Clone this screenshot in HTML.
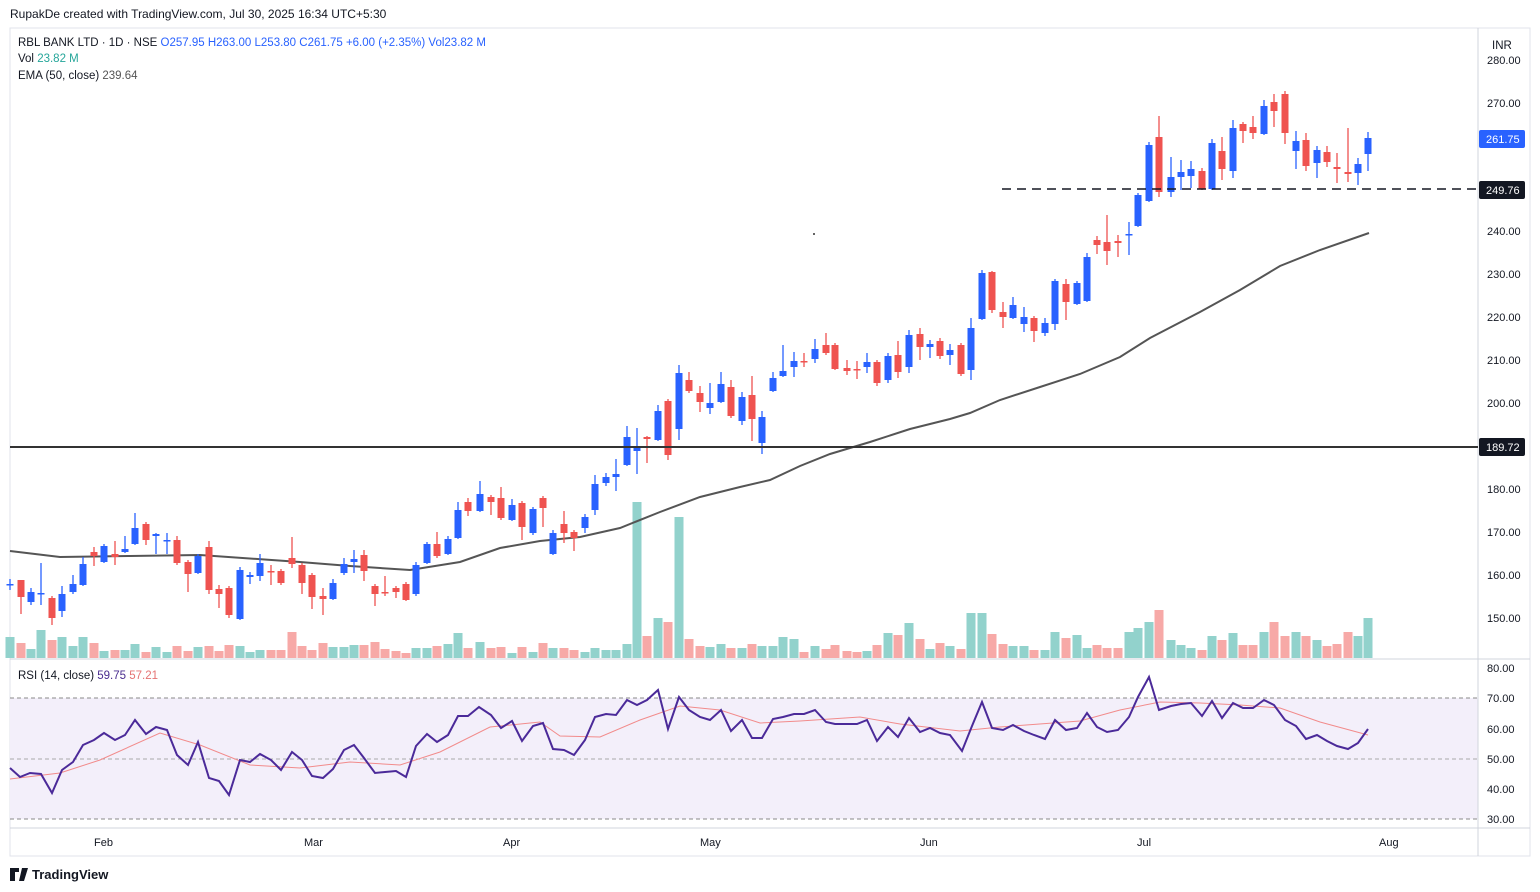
<!DOCTYPE html>
<html><head><meta charset="utf-8"><style>
body{margin:0;background:#fff;width:1540px;height:892px;overflow:hidden;font-family:"Liberation Sans",sans-serif}
svg{position:absolute;left:0;top:0}
</style></head><body>
<svg id="s" width="1540" height="892" xmlns="http://www.w3.org/2000/svg" font-family="Liberation Sans, sans-serif">
<rect x="10" y="28" width="1520" height="828" fill="#fff" stroke="#e0e3eb"/>
<rect x="10" y="698" width="1468" height="121" fill="#f3effa"/>
<line x1="10" y1="698" x2="1478" y2="698" stroke="#888" stroke-dasharray="4,3"/>
<line x1="10" y1="759" x2="1478" y2="759" stroke="#aaa" stroke-dasharray="4,3"/>
<line x1="10" y1="819" x2="1478" y2="819" stroke="#888" stroke-dasharray="4,3"/>
<line x1="10" y1="659" x2="1530" y2="659" stroke="#d1d4dc"/>
<line x1="10" y1="828" x2="1530" y2="828" stroke="#d1d4dc"/>
<line x1="1478" y1="28" x2="1478" y2="856" stroke="#d1d4dc"/>
<g id="g"></g>
<text x="10" y="18" font-size="12" fill="#131722">RupakDe created with TradingView.com, Jul 30, 2025 16:34 UTC+5:30</text>
<text x="18" y="46" font-size="11.5" fill="#131722">RBL BANK LTD · 1D · NSE  <tspan fill="#2962ff">O257.95  H263.00  L253.80  C261.75  +6.00 (+2.35%)  Vol23.82 M</tspan></text>
<text x="18" y="62" font-size="11.5" fill="#131722">Vol <tspan fill="#26a69a">23.82 M</tspan></text>
<text x="18" y="79" font-size="11.5" fill="#131722">EMA (50, close)  <tspan fill="#555">239.64</tspan></text>
<text x="18" y="679" font-size="11.5" fill="#131722">RSI (14, close)  <tspan fill="#4a2d8f">59.75</tspan>  <tspan fill="#e57373">57.21</tspan></text>
<text x="1492" y="49" font-size="11.5" fill="#131722">INR</text>
<g font-size="11" fill="#131722">
<text x="1487" y="64">280.00</text><text x="1487" y="107">270.00</text><text x="1487" y="235">240.00</text>
<text x="1487" y="278">230.00</text><text x="1487" y="321">220.00</text><text x="1487" y="364">210.00</text>
<text x="1487" y="407">200.00</text><text x="1487" y="493">180.00</text><text x="1487" y="536">170.00</text>
<text x="1487" y="579">160.00</text><text x="1487" y="622">150.00</text>
<text x="1487" y="672">80.00</text><text x="1487" y="702">70.00</text><text x="1487" y="733">60.00</text>
<text x="1487" y="763">50.00</text><text x="1487" y="793">40.00</text><text x="1487" y="823">30.00</text>
<text x="94" y="846">Feb</text><text x="304" y="846">Mar</text><text x="503" y="846">Apr</text>
<text x="700" y="846">May</text><text x="920" y="846">Jun</text><text x="1137" y="846">Jul</text><text x="1379" y="846">Aug</text>
</g>
<rect x="1479" y="130" width="46" height="18" fill="#2962ff" rx="2"/><text x="1486" y="143" font-size="11" fill="#fff">261.75</text>
<rect x="1479" y="181" width="46" height="18" fill="#131722" rx="2"/><text x="1486" y="194" font-size="11" fill="#fff">249.76</text>
<rect x="1479" y="438" width="46" height="18" fill="#131722" rx="2"/><text x="1486" y="451" font-size="11" fill="#fff">189.72</text>
<line x1="1002" y1="189" x2="1478" y2="189" stroke="#131722" stroke-width="1.5" stroke-dasharray="9,6"/>
<line x1="10" y1="447" x2="1478" y2="447" stroke="#333" stroke-width="2"/>
<circle cx="814" cy="234" r="1" fill="#333"/>
<text x="32" y="879" font-size="13" font-weight="bold" fill="#131722">TradingView</text>
<path d="M10 868h9v4h-4v9h-5z M22 868h6l-4 13h-5z" fill="#131722"/>
</svg>
<script>
var C=[
[10,'b',584,585,579,590],[21,'r',580,597,580,614],[31,'b',592,602,588,605],[41,'b',593,594,563,605],[52,'r',598,618,596,625],[62,'b',594,611,586,617],[73,'b',584,592,575,594],[83,'b',564,585,557,586],[94,'r',552,556,547,566],[104,'b',546,562,544,563],[115,'r',554,557,541,565],[125,'b',549,552,536,553],[135,'b',528,544,513,545],[146,'r',524,540,522,545],[156,'b',534,536,533,554],[167,'b',540,541,533,554],[177,'r',540,563,536,565],[188,'r',562,574,560,592],[198,'b',556,573,554,574],[209,'r',547,590,541,594],[219,'r',589,594,585,608],[229,'r',588,615,586,618],[240,'b',570,619,567,620],[250,'b',575,577,572,584],[260,'b',563,576,554,581],[271,'r',571,572,565,585],[281,'r',571,583,569,585],[292,'r',558,564,537,568],[302,'r',565,583,563,594],[312,'r',575,597,573,609],[323,'r',596,599,588,615],[333,'b',583,599,579,600],[344,'b',564,573,558,575],[354,'b',559,562,550,573],[364,'r',555,571,550,581],[375,'r',586,594,584,606],[385,'r',592,593,576,596],[396,'r',588,592,586,598],[406,'r',584,600,582,601],[416,'b',565,594,562,596],[427,'b',544,563,542,564],[437,'r',544,556,532,558],[448,'b',539,554,536,555],[458,'b',510,538,502,539],[468,'r',502,511,498,516],[480,'b',494,511,481,512],[491,'r',497,502,495,515],[501,'r',498,518,487,520],[512,'b',505,520,499,521],[522,'r',503,527,501,540],[533,'b',509,533,507,535],[543,'r',498,508,496,527],[553,'b',533,554,530,555],[564,'r',524,533,511,543],[574,'r',532,538,530,551],[585,'b',517,528,514,533],[595,'b',484,510,475,515],[606,'b',477,483,473,486],[616,'b',474,477,459,491],[627,'b',437,465,426,466],[637,'b',447,451,428,474],[647,'r',437,439,436,463],[658,'b',411,440,405,441],[668,'r',401,455,399,460],[679,'b',373,429,365,440],[689,'r',380,391,372,393],[700,'r',393,402,386,412],[710,'b',403,408,383,414],[721,'b',384,402,372,403],[731,'r',387,416,380,418],[742,'b',397,421,392,425],[752,'r',395,419,376,441],[762,'b',417,443,411,454],[773,'b',378,391,372,392],[783,'b',371,376,345,377],[794,'b',361,367,352,377],[804,'r',361,362,353,367],[815,'b',349,359,339,363],[826,'r',345,353,333,355],[835,'r',345,369,343,370],[847,'r',368,371,360,375],[857,'r',369,370,361,379],[867,'b',362,367,353,373],[877,'r',362,383,360,386],[888,'b',356,380,353,383],[898,'r',355,372,341,378],[909,'b',335,367,330,373],[920,'r',334,347,328,360],[930,'b',344,347,340,358],[940,'r',341,356,338,359],[950,'b',350,355,344,365],[961,'r',345,374,343,376],[971,'b',328,370,318,380],[982,'b',273,319,270,320],[992,'r',272,310,271,313],[1003,'r',312,317,302,328],[1013,'b',305,318,297,319],[1024,'b',317,324,307,332],[1034,'r',318,331,316,342],[1045,'b',323,333,318,336],[1055,'b',281,324,279,330],[1066,'r',284,302,279,320],[1077,'b',283,304,281,305],[1087,'b',257,301,253,302],[1097,'r',240,245,236,254],[1107,'r',242,251,215,265],[1118,'r',241,243,235,257],[1129,'b',234,235,222,255],[1138,'b',195,226,193,227],[1149,'b',145,201,142,202],[1159,'r',137,192,116,197],[1171,'b',177,192,157,197],[1181,'b',172,177,160,190],[1191,'b',169,176,161,188],[1202,'r',171,189,168,190],[1212,'b',143,189,139,190],[1222,'r',151,169,137,180],[1233,'b',128,171,120,178],[1243,'r',124,131,122,143],[1253,'r',127,133,116,139],[1264,'b',106,134,100,135],[1274,'r',102,111,94,127],[1285,'r',94,133,91,144],[1296,'b',141,151,131,169],[1306,'r',140,166,133,171],[1317,'b',150,163,146,178],[1327,'r',152,162,146,167],[1337,'r',167,169,153,183],[1348,'r',172,174,128,182],[1358,'b',164,173,158,185],[1368,'b',138,154,132,171]];
var V={10:637,21:643,31:649,41:630,52:640,62:637,73:646,83:637,94:643,104:651,115:650,125:650,135:644,146:652,156:647,167:652,177:646,188:651,198:647,209:646,219:651,229:645,240:646,250:652,260:650,271:650,281:650,292:632,302:646,312:650,323:643,333:647,344:647,354:645,364:645,375:642,385:649,396:651,406:653,416:648,427:648,437:646,448:644,458:633,468:648,480:642,491:648,501:647,512:653,522:647,533:652,543:643,553:648,564:648,574:650,585:652,595:648,606:650,616:650,627:644,637:502,647:636,658:618,668:622,679:517,689:639,700:646,710:647,721:644,731:648,742:648,752:644,762:646,773:646,783:637,794:639,804:652,815:646,826:649,835:645,847:651,857:652,867:651,877:645,888:633,898:635,909:623,920:639,930:649,940:643,950:646,961:649,971:613,982:613,992:634,1003:644,1013:646,1024:646,1034:650,1045:650,1055:632,1066:638,1077:635,1087:648,1097:645,1107:648,1118:648,1129:632,1138:628,1149:622,1159:610,1171:640,1181:645,1191:648,1202:650,1212:636,1222:640,1233:633,1243:645,1253:645,1264:632,1274:622,1285:636,1296:632,1306:636,1317:640,1327:646,1337:644,1348:632,1358:636,1368:618};
var h='';
C.forEach(function(c){var x=c[0],up=c[1]=='b';var vy=V[x]||645;
h+='<rect x="'+(x-4.5)+'" y="'+vy+'" width="9" height="'+(658-vy)+'" fill="'+(up?'#92d2cc':'#f7a9a7')+'"/>';});
var E=[[10,551],[60,557],[130,556],[200,555],[300,562],[350,566],[410,570],[460,562],[500,548],[540,541],[580,537],[620,528],[660,512],[700,497],[740,487],[770,480],[800,466],[830,454],[870,442],[910,429],[950,419],[970,413],[1000,400],[1040,387],[1080,374],[1120,357],[1150,338],[1200,312],[1240,290],[1280,266],[1320,250],[1369,233]];
h+='<polyline fill="none" stroke="#555" stroke-width="2" points="'+E.join(' ')+'"/>';
C.forEach(function(c){var x=c[0],col=c[1]=='b'?'#2962ff':'#ef5350';
h+='<line x1="'+x+'" x2="'+x+'" y1="'+c[4]+'" y2="'+c[5]+'" stroke="'+col+'" stroke-width="1.3"/>';
h+='<rect x="'+(x-3.5)+'" y="'+c[2]+'" width="7" height="'+Math.max(1.5,c[3]-c[2])+'" fill="'+col+'"/>';});
var R=[[10,768],[20,777],[30,773],[41,774],[52,793],[62,770],[73,762],[83,745],[94,740],[104,733],[115,740],[125,735],[135,720],[146,734],[156,727],[167,730],[177,755],[188,765],[198,742],[209,778],[219,781],[229,795],[240,760],[250,762],[260,754],[271,760],[281,770],[292,752],[302,760],[312,776],[323,778],[333,769],[344,750],[354,745],[364,758],[375,773],[385,772],[396,771],[406,777],[416,746],[427,734],[437,742],[448,735],[458,716],[468,716],[479,707],[491,715],[501,728],[512,721],[522,741],[533,726],[543,723],[553,749],[564,750],[574,755],[585,740],[595,717],[606,714],[616,715],[627,700],[637,705],[647,700],[658,690],[668,729],[679,697],[689,710],[700,717],[710,720],[721,710],[731,731],[742,720],[752,738],[762,738],[773,719],[783,717],[794,714],[804,714],[815,710],[826,722],[835,724],[847,724],[857,724],[867,720],[877,741],[888,727],[898,737],[909,718],[920,732],[930,728],[940,733],[950,735],[962,751],[972,726],[982,702],[992,728],[1003,730],[1013,725],[1024,731],[1034,735],[1045,739],[1055,720],[1066,730],[1077,728],[1087,713],[1097,727],[1107,732],[1118,730],[1129,717],[1138,697],[1149,677],[1159,710],[1171,706],[1181,704],[1191,703],[1202,716],[1212,701],[1222,718],[1233,703],[1243,708],[1253,708],[1264,700],[1274,705],[1285,720],[1296,726],[1306,739],[1317,735],[1327,741],[1337,746],[1348,749],[1358,743],[1368,729]];
var M=[[10,779],[60,773],[100,760],[160,733],[200,745],[250,765],[300,768],[350,762],[400,765],[440,752],[490,727],[540,722],[560,736],[600,737],[640,720],[680,706],[720,710],[760,723],[800,721],[860,717],[900,724],[960,731],[1000,727],[1080,721],[1120,710],[1160,702],[1200,703],[1240,705],[1280,708],[1320,722],[1368,735]];
h+='<polyline fill="none" stroke="#f28b8b" stroke-width="1" points="'+M.join(' ')+'"/>';
h+='<polyline fill="none" stroke="#4b2a99" stroke-width="2" points="'+R.join(' ')+'"/>';
document.getElementById('g').innerHTML=h;
</script>
</body></html>
